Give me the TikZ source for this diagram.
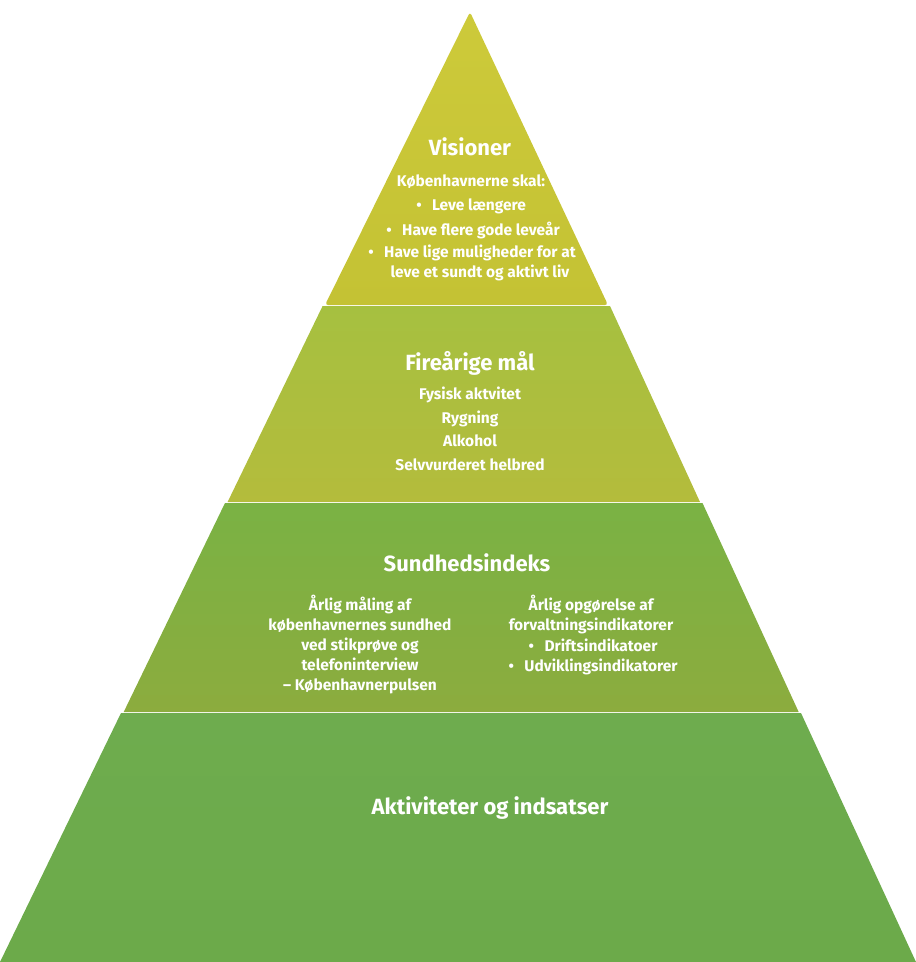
\documentclass[tikz,border=0pt]{standalone}
\usepackage{fontspec}
\setmainfont{Fira Sans}
\usetikzlibrary{positioning}

\definecolor{visiontop}{RGB}{205,202,58}
\definecolor{visionbot}{RGB}{196,194,52}
\definecolor{maaltop}{RGB}{166,192,64}
\definecolor{maalbot}{RGB}{180,188,60}
\definecolor{indekstop}{RGB}{122,178,68}
\definecolor{indeksbot}{RGB}{140,172,62}
\definecolor{aktivtop}{RGB}{110,172,78}
\definecolor{aktivbot}{RGB}{108,170,74}

\tikzset{
  layertitle/.style={text=white, inner sep=0pt, font=\fontsize{22}{26}\selectfont\bfseries},
  layertext/.style={text=white, inner sep=0pt, align=center, font=\fontsize{15.5}{20}\selectfont\bfseries},
  dot/.style={text=white, inner sep=0pt, anchor=base east, font=\fontsize{15.5}{20}\selectfont\bfseries},
}

\begin{document}
\begin{tikzpicture}[x=1pt, y=-1pt]
\useasboundingbox (0,0) rectangle (916,962);

% the four layers
\shade[top color=visiontop, bottom color=visionbot, rounded corners=3pt] (470,12) -- (608,305) -- (325,305) -- cycle;
\shade[top color=maaltop, bottom color=maalbot] (322.6,306) -- (610,306) -- (700,502) -- (227.6,502) -- cycle;
\shade[top color=indekstop, bottom color=indeksbot] (225,503) -- (702.5,503) -- (798.7,712) -- (123.7,712) -- cycle;
\shade[top color=aktivtop, bottom color=aktivbot] (121,713) -- (801,713) -- (916,962) -- (0,962) -- cycle;

% Visioner
\node[layertitle] (vis) at (470,147) {Visioner};
\node[layertext] (vis0) at (471,182) {Københavnerne skal:};
\node[layertext] (vis1) at (479,206) {Leve længere};
\node[dot] at ([xshift=-10pt]vis1.base west) {•};
\node[layertext] (vis2) at (481,230) {Have flere gode leveår};
\node[dot] at ([xshift=-10pt]vis2.base west) {•};
\node[layertext] (vis3) at (480,253) {Have lige muligheder for at};
\node[layertext] (vis3b) at (480,273) {leve et sundt og aktivt liv};
\node[dot] at ([xshift=-10pt]vis3.base west) {•};

% Fireaarige maal
\node[layertitle] (maal) at (470,363) {Fireårige mål};
\node[layertext, anchor=north] (maal1) at (470,387) {Fysisk aktvitet\\[3.5pt]Rygning\\[3.5pt]Alkohol\\[3.5pt]Selvvurderet helbred};

% Sundhedsindeks
\node[layertitle] (idx) at (467,563) {Sundhedsindeks};
\node[layertext, anchor=north] (idxl) at (360,595) {Årlig måling af\\københavnernes sundhed\\ved stikprøve og\\telefoninterview\\– Københavnerpulsen};
\node[layertext, anchor=north] (idxr) at (591,595) {Årlig opgørelse af\\forvaltningsindikatorer};
\node[layertext] (idx1) at (601,645) {Driftsindikatoer};
\node[dot] at ([xshift=-10pt]idx1.base west) {•};
\node[layertext] (idx2) at (601,667) {Udviklingsindikatorer};
\node[dot] at ([xshift=-10pt]idx2.base west) {•};

% Aktiviteter
\node[layertitle] (akt) at (490,808) {Aktiviteter og indsatser};
\end{tikzpicture}
\end{document}
